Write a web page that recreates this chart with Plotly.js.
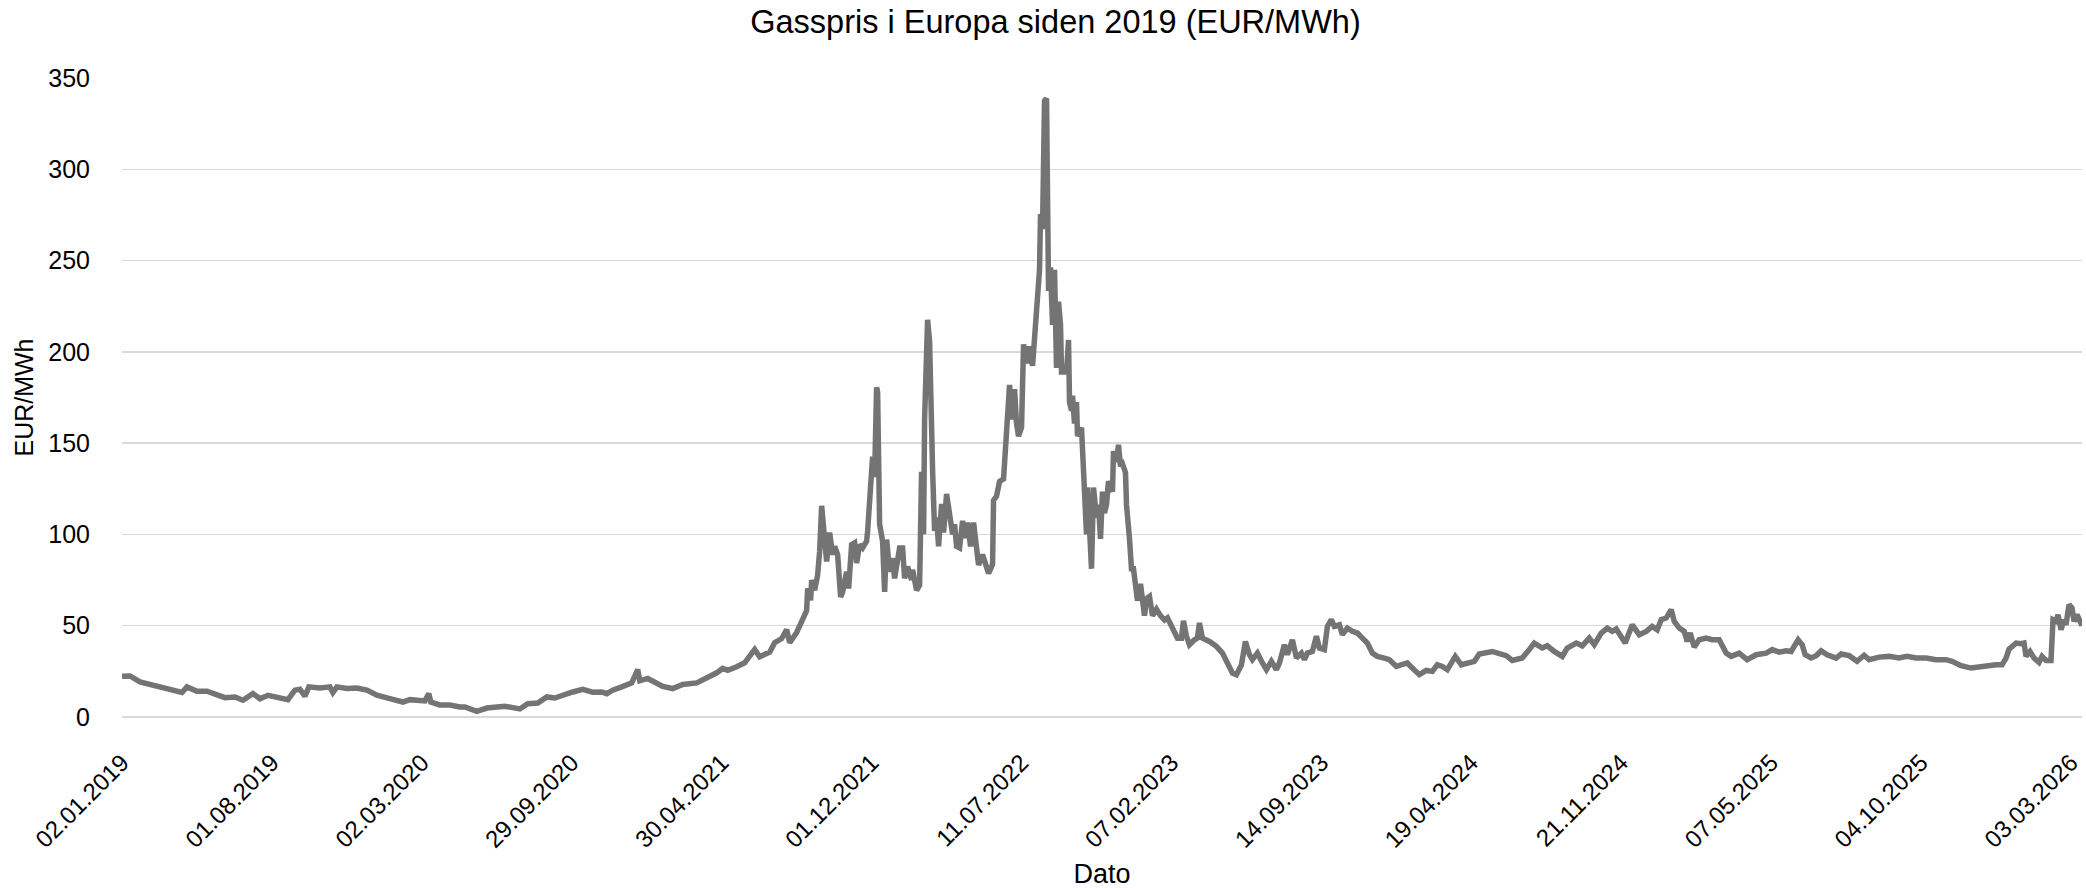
<!DOCTYPE html>
<html>
<head>
<meta charset="utf-8">
<script src="https://cdn.plot.ly/plotly-3.0.1.min.js"></script>
<style>
  html, body { margin: 0; padding: 0; background: #ffffff; }
  #chart { width: 2086px; height: 889px; }
</style>
</head>
<body>
<div id="chart"></div>
<script>
// Trading-day index (0 = 02.01.2019) and TTF gas price in EUR/MWh
const dayIndex = [
  0, 8, 18, 28, 40, 50, 60, 65, 75, 85, 95, 103, 113, 121, 131, 138, 146, 155, 166, 173,
  178, 183, 187, 198, 208, 211, 215, 225, 235, 245, 255, 268, 281, 288, 303, 307, 309, 318, 328, 338,
  343, 355, 365, 383, 398, 406, 416, 425, 433, 451, 461, 471, 480, 485, 491, 500, 510, 516, 518, 526,
  535, 541, 551, 561, 575, 585, 595, 601, 606, 615, 623, 633, 638, 645, 648, 653, 660, 665, 668, 675,
  680, 685, 686, 689, 690, 693, 696, 698, 700, 703, 705, 708, 711, 713, 716, 719, 721, 725, 727, 730,
  733, 735, 738, 741, 745, 746, 749, 751, 753, 755, 756, 758, 761, 763, 765, 768, 771, 773, 776, 778,
  781, 783, 786, 790, 791, 795, 798, 800, 802, 803, 806, 808, 811, 813, 815, 817, 820, 822, 825, 828,
  831, 833, 835, 838, 841, 843, 846, 849, 852, 855, 857, 861, 864, 867, 871, 872, 875, 878, 882, 885,
  888, 890, 893, 895, 897, 900, 902, 905, 907, 911, 913, 915, 918, 919, 921, 923, 925, 927, 929, 931,
  933, 935, 937, 939, 940, 945, 947, 948, 950, 951, 953, 955, 956, 960, 963, 965, 966, 968, 970, 972,
  975, 977, 979, 981, 983, 985, 987, 991, 992, 995, 997, 999, 1001, 1004, 1005, 1008, 1010, 1012, 1014, 1016,
  1019, 1021, 1023, 1025, 1028, 1031, 1035, 1039, 1043, 1046, 1050, 1053, 1056, 1060, 1062, 1065, 1068, 1073, 1076, 1078,
  1081, 1088, 1095, 1101, 1106, 1111, 1115, 1120, 1124, 1128, 1131, 1136, 1141, 1145, 1150, 1155, 1158, 1163, 1166, 1171,
  1175, 1180, 1183, 1186, 1191, 1195, 1198, 1203, 1206, 1210, 1213, 1218, 1221, 1226, 1231, 1236, 1241, 1246, 1251, 1256,
  1263, 1268, 1275, 1281, 1286, 1291, 1298, 1305, 1311, 1316, 1321, 1326, 1334, 1340, 1346, 1353, 1358, 1365, 1371, 1378,
  1385, 1391, 1401, 1408, 1413, 1421, 1426, 1433, 1441, 1446, 1455, 1461, 1468, 1473, 1480, 1486, 1491, 1495, 1500, 1504,
  1511, 1518, 1525, 1531, 1536, 1540, 1545, 1550, 1553, 1558, 1563, 1566, 1569, 1573, 1578, 1585, 1591, 1598, 1605, 1610,
  1618, 1626, 1635, 1645, 1651, 1658, 1665, 1670, 1673, 1677, 1681, 1684, 1690, 1695, 1700, 1706, 1715, 1720, 1728, 1736,
  1743, 1748, 1758, 1768, 1778, 1786, 1795, 1805, 1815, 1825, 1831, 1840, 1850, 1858, 1866, 1875, 1881, 1885, 1888, 1891,
  1895, 1900, 1903, 1905, 1909, 1913, 1918, 1921, 1925, 1930, 1932, 1935, 1937, 1940, 1943, 1945, 1948, 1951, 1953, 1956,
  1958, 1961
];
const priceEur = [
  22.3, 22.5, 19.2, 17.8, 16.8, 14.7, 13.4, 16.5, 14.1, 14.1, 12.3, 10.6, 11.0, 9.2, 12.8, 10.0, 11.9, 11.0, 9.5, 14.7,
  15.2, 11.4, 16.5, 15.9, 16.5, 13.4, 16.5, 15.6, 15.9, 14.7, 11.9, 10.1, 8.2, 9.5, 8.8, 12.8, 8.2, 6.6, 6.6, 5.5,
  5.5, 3.1, 4.9, 5.9, 4.4, 7.3, 7.7, 11.0, 10.4, 13.7, 15.2, 13.6, 13.7, 12.8, 14.7, 16.5, 18.7, 26.0, 19.8, 21.1,
  18.7, 16.8, 15.6, 17.8, 18.7, 21.1, 24.2, 26.6, 25.6, 27.5, 29.7, 37.0, 33.0, 34.8, 35.5, 40.7, 43.0, 47.8, 40.7, 46.3,
  51.9, 58.3, 70.4, 63.9, 75.0, 69.4, 77.8, 90.7, 115.7, 94.4, 85.2, 101.0, 88.9, 93.5, 88.9, 65.7, 68.5, 79.6, 70.4, 94.4,
  95.4, 84.3, 94.4, 92.6, 96.3, 101.9, 127.8, 142.6, 131.5, 180.6, 177.8, 105.6, 96.3, 68.5, 97.2, 79.6, 87.0, 75.9, 87.0, 92.6,
  92.6, 75.9, 82.4, 75.0, 80.6, 69.4, 72.2, 134.3, 100.0, 163.0, 217.6, 205.6, 135.2, 101.9, 109.3, 93.5, 116.7, 101.0, 122.2, 109.3,
  100.0, 105.6, 93.5, 92.6, 107.4, 98.1, 106.5, 93.5, 106.5, 92.6, 83.3, 88.9, 83.3, 78.7, 83.6, 118.7, 121.0, 129.0, 130.4, 163.0,
  181.9, 163.0, 179.5, 160.8, 153.8, 158.5, 204.1, 193.6, 203.0, 192.4, 205.3, 225.2, 245.0, 275.5, 267.3, 337.5, 338.7, 233.4, 246.3, 214.7,
  245.0, 191.2, 227.5, 214.7, 188.9, 188.9, 206.5, 172.5, 167.8, 176.0, 160.8, 172.5, 153.8, 158.5, 114.0, 100.0, 125.7, 98.8, 81.2, 125.7,
  109.3, 116.3, 97.6, 123.4, 111.7, 116.3, 129.2, 123.4, 145.6, 139.7, 149.1, 137.4, 138.6, 133.9, 116.3, 97.6, 81.2, 81.2, 73.0, 63.7,
  73.0, 63.7, 55.5, 64.8, 66.0, 55.5, 59.0, 55.5, 53.1, 54.3, 50.0, 47.8, 43.2, 43.2, 52.7, 44.2, 39.6, 42.3, 43.2, 51.5,
  43.2, 41.4, 38.7, 35.0, 29.6, 24.1, 23.2, 28.6, 41.4, 34.1, 31.4, 35.0, 29.6, 25.9, 30.5, 25.9, 29.6, 39.6, 34.1, 42.3,
  32.3, 35.0, 31.4, 35.0, 35.9, 44.2, 37.8, 36.9, 49.6, 53.3, 49.6, 50.5, 45.1, 48.7, 46.9, 46.0, 43.2, 40.5, 35.0, 33.2,
  32.3, 31.4, 27.7, 28.6, 29.6, 26.8, 23.2, 25.5, 25.0, 28.6, 27.7, 25.9, 33.2, 28.6, 29.6, 30.5, 34.5, 35.0, 35.9, 34.7,
  33.6, 31.0, 32.3, 36.9, 40.5, 37.8, 39.0, 35.9, 33.2, 37.8, 40.5, 39.0, 43.2, 39.6, 46.0, 48.7, 46.9, 48.2, 44.2, 40.5,
  50.5, 45.1, 46.9, 49.6, 47.8, 53.3, 54.2, 58.8, 52.4, 48.7, 46.9, 41.4, 46.0, 38.3, 42.3, 43.2, 42.3, 42.3, 35.0, 33.2,
  35.0, 31.4, 34.1, 35.0, 36.9, 35.5, 36.3, 35.9, 38.7, 42.3, 39.6, 34.1, 32.3, 33.6, 36.3, 34.1, 32.3, 34.5, 33.6, 30.5,
  33.8, 31.4, 32.8, 33.2, 32.3, 33.2, 32.3, 32.3, 31.4, 31.4, 30.5, 28.1, 26.8, 27.4, 28.3, 28.6, 28.6, 32.3, 37.2, 38.7,
  40.5, 40.1, 40.5, 33.2, 35.9, 32.3, 29.9, 33.2, 31.0, 31.0, 53.3, 52.4, 56.0, 47.8, 53.3, 50.5, 61.5, 59.7, 52.4, 56.0,
  53.3, 50.0
];
// Category tick labels (one every 150 trading days)
const tickLabels = [
  "02.01.2019", "01.08.2019", "02.03.2020", "29.09.2020", "30.04.2021", "01.12.2021", "11.07.2022",
  "07.02.2023", "14.09.2023", "19.04.2024", "21.11.2024", "07.05.2025", "04.10.2025", "03.03.2026"
];
const tickStep = 150;
const tickIndex = tickLabels.map((_, i) => i * tickStep);

const FONT = "Liberation Sans, Arial, sans-serif";

const trace = {
  x: dayIndex,
  y: priceEur,
  type: "scatter",
  mode: "lines",
  line: { color: "#747474", width: 5.5, shape: "linear" },
  hoverinfo: "skip",
  showlegend: false
};

const layout = {
  width: 2086,
  height: 889,
  margin: { l: 122, r: 4, t: 78, b: 172 },
  paper_bgcolor: "#ffffff",
  plot_bgcolor: "#ffffff",
  font: { family: FONT, color: "#000000" },
  title: {
    text: "Gasspris i Europa siden 2019 (EUR/MWh)",
    font: { family: FONT, size: 32.5, color: "#000000" },
    xref: "container", x: 0.506, xanchor: "center",
    yref: "container", y: 0.976, yanchor: "middle"
  },
  xaxis: {
    range: [0, dayIndex[dayIndex.length - 1]],
    tickmode: "array",
    tickvals: tickIndex,
    ticktext: tickLabels,
    tickangle: -45,
    tickfont: { family: FONT, size: 24, color: "#000000" },
    ticks: "outside", ticklen: 21, tickcolor: "rgba(0,0,0,0)",
    showgrid: false, zeroline: false, showline: false,
    title: { text: "Dato", font: { family: FONT, size: 27, color: "#000000" }, standoff: 18 }
  },
  yaxis: {
    range: [0, 350],
    tick0: 0, dtick: 50,
    tickfont: { family: FONT, size: 25, color: "#000000" },
    ticks: "outside", ticklen: 26, tickcolor: "rgba(0,0,0,0)",
    showgrid: true, gridcolor: "#d9d9d9", gridwidth: 1.5,
    zeroline: true, zerolinecolor: "#d9d9d9", zerolinewidth: 1.5,
    showline: false,
    title: { text: "EUR/MWh", font: { family: FONT, size: 25, color: "#000000" }, standoff: 7 }
  }
};

Plotly.newPlot("chart", [trace], layout, { displayModeBar: false, staticPlot: true });
</script>
</body>
</html>
